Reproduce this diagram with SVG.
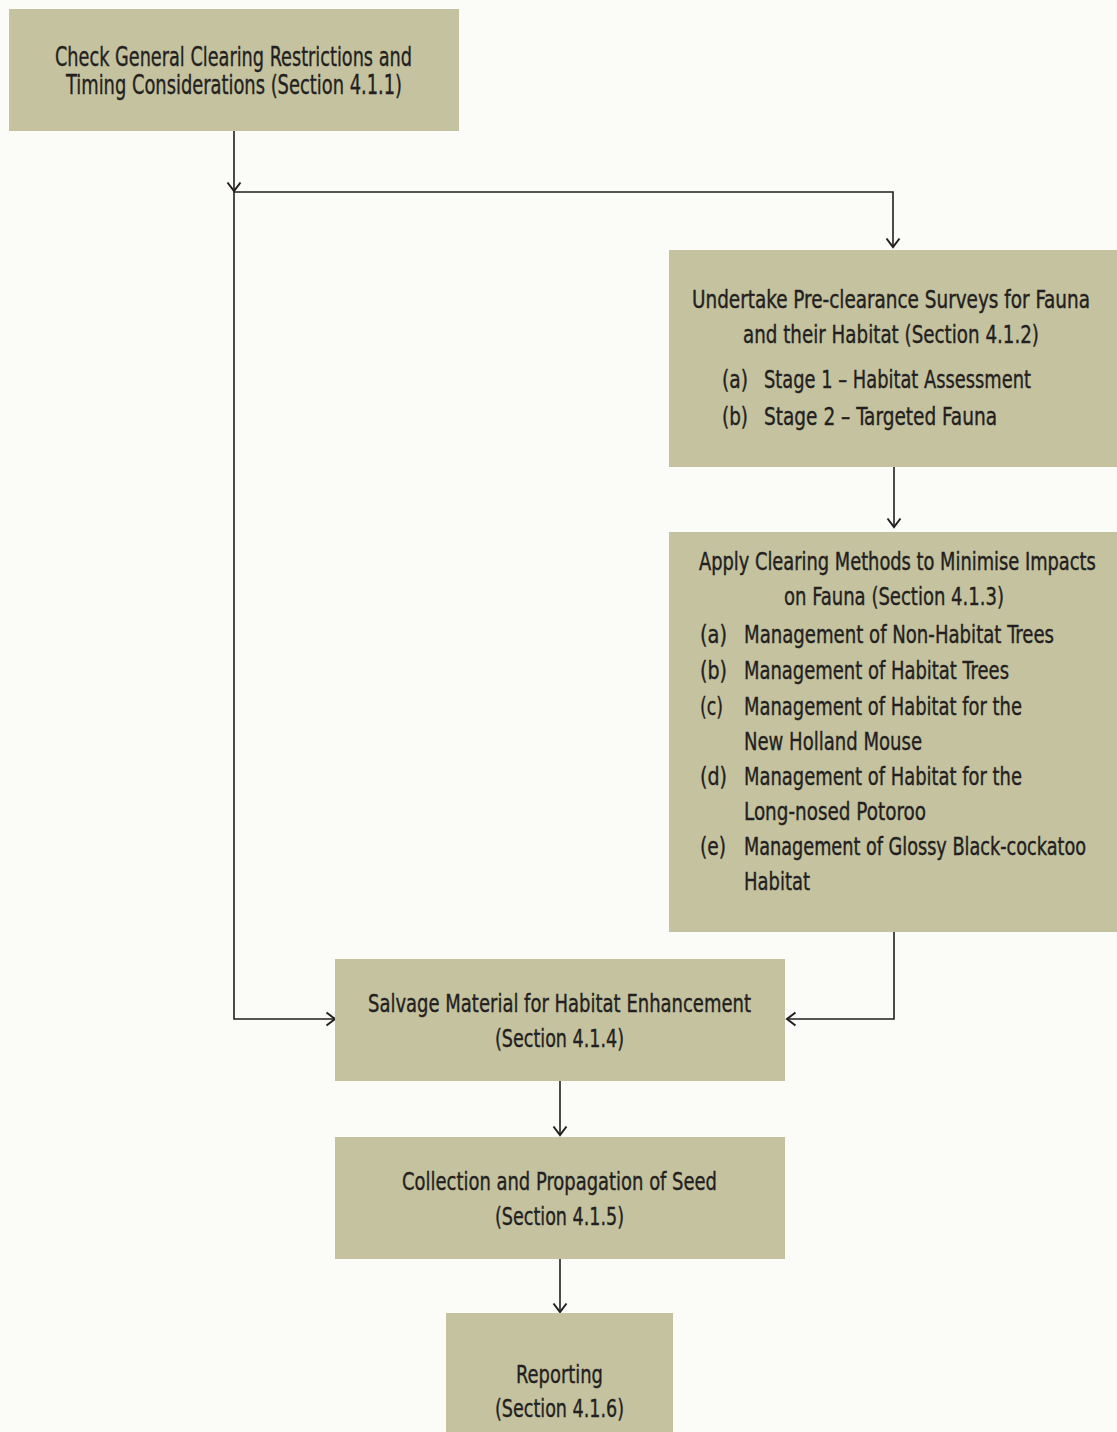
<svg xmlns="http://www.w3.org/2000/svg" width="1117" height="1432" viewBox="0 0 1117 1432">
<defs>
<style>
.box{fill:#c4c29f;}
text{font-family:"Liberation Sans Narrow","DejaVu Sans Condensed","Liberation Sans",sans-serif;fill:#231f20;stroke:#231f20;stroke-width:0.35px;}
.t{font-size:24px;}
.s{font-size:24px;stroke-width:0.4px;}
.t1{font-size:27px;}
.c{stroke:#231f20;stroke-width:1.6;fill:none;}
</style>
<marker id="arr" markerUnits="userSpaceOnUse" viewBox="-11 -8 13 16" refX="0" refY="0" markerWidth="13" markerHeight="16" orient="auto">
<path d="M-8.5,-6.5 L0,0 L-8.5,6.5" fill="none" stroke="#231f20" stroke-width="2"/>
</marker>
</defs>
<rect width="1117" height="1432" fill="#fbfbf7"/>
<g id="connectors">
<path class="c" d="M234,131 V191" marker-end="url(#arr)"/>
<path class="c" d="M234,191 V1019 H335" marker-end="url(#arr)"/>
<path class="c" d="M234,192 H893 V247" marker-end="url(#arr)"/>
<path class="c" d="M894,467 V527" marker-end="url(#arr)"/>
<path class="c" d="M894,932 V1019 H787" marker-end="url(#arr)"/>
<path class="c" d="M560,1078 V1135" marker-end="url(#arr)"/>
<path class="c" d="M560,1256 V1312" marker-end="url(#arr)"/>
</g>
<g id="node1">
<rect class="box" x="9" y="9" width="450" height="122"/>
<text class="t1" x="55" y="66" textLength="357" lengthAdjust="spacingAndGlyphs">Check General Clearing Restrictions and</text>
<text class="t1" x="66" y="94" textLength="336" lengthAdjust="spacingAndGlyphs">Timing Considerations (Section 4.1.1)</text>
</g>
<g id="node2">
<rect class="box" x="669" y="250" width="448" height="217"/>
<text class="s" transform="translate(692,308) scale(0.8,1)" x="0" y="0" textLength="497.5" lengthAdjust="spacingAndGlyphs">Undertake Pre-clearance Surveys for Fauna</text>
<text class="t" x="743" y="343" textLength="296" lengthAdjust="spacingAndGlyphs">and their Habitat (Section 4.1.2)</text>
<text class="t" x="722" y="388" textLength="26" lengthAdjust="spacingAndGlyphs">(a)</text>
<text class="t" x="764" y="388" textLength="267" lengthAdjust="spacingAndGlyphs">Stage 1 – Habitat Assessment</text>
<text class="t" x="722" y="425" textLength="26" lengthAdjust="spacingAndGlyphs">(b)</text>
<text class="t" x="764" y="425" textLength="233" lengthAdjust="spacingAndGlyphs">Stage 2 – Targeted Fauna</text>
</g>
<g id="node3">
<rect class="box" x="669" y="532" width="448" height="400"/>
<text class="s" transform="translate(699,570) scale(0.8,1)" x="0" y="0" textLength="496" lengthAdjust="spacingAndGlyphs">Apply Clearing Methods to Minimise Impacts</text>
<text class="t" x="784" y="605" textLength="220" lengthAdjust="spacingAndGlyphs">on Fauna (Section 4.1.3)</text>
<text class="t" x="700" y="643" textLength="27" lengthAdjust="spacingAndGlyphs">(a)</text>
<text class="t" x="744" y="643" textLength="310" lengthAdjust="spacingAndGlyphs">Management of Non-Habitat Trees</text>
<text class="t" x="700" y="679" textLength="27" lengthAdjust="spacingAndGlyphs">(b)</text>
<text class="t" x="744" y="679" textLength="265" lengthAdjust="spacingAndGlyphs">Management of Habitat Trees</text>
<text class="t" x="700" y="715" textLength="23" lengthAdjust="spacingAndGlyphs">(c)</text>
<text class="t" x="744" y="715" textLength="278" lengthAdjust="spacingAndGlyphs">Management of Habitat for the</text>
<text class="t" x="744" y="750" textLength="178" lengthAdjust="spacingAndGlyphs">New Holland Mouse</text>
<text class="t" x="700" y="785" textLength="27" lengthAdjust="spacingAndGlyphs">(d)</text>
<text class="t" x="744" y="785" textLength="278" lengthAdjust="spacingAndGlyphs">Management of Habitat for the</text>
<text class="t" x="744" y="820" textLength="182" lengthAdjust="spacingAndGlyphs">Long-nosed Potoroo</text>
<text class="t" x="700" y="855" textLength="26" lengthAdjust="spacingAndGlyphs">(e)</text>
<text class="s" transform="translate(744,855) scale(0.8,1)" x="0" y="0" textLength="427.5" lengthAdjust="spacingAndGlyphs">Management of Glossy Black-cockatoo</text>
<text class="t" x="744" y="890" textLength="66" lengthAdjust="spacingAndGlyphs">Habitat</text>
</g>
<g id="node4">
<rect class="box" x="335" y="959" width="450" height="122"/>
<text class="t" x="368" y="1012" textLength="383" lengthAdjust="spacingAndGlyphs">Salvage Material for Habitat Enhancement</text>
<text class="t" x="495" y="1047" textLength="129" lengthAdjust="spacingAndGlyphs">(Section 4.1.4)</text>
</g>
<g id="node5">
<rect class="box" x="335" y="1137" width="450" height="122"/>
<text class="t" x="402" y="1190" textLength="315" lengthAdjust="spacingAndGlyphs">Collection and Propagation of Seed</text>
<text class="t" x="495" y="1225" textLength="129" lengthAdjust="spacingAndGlyphs">(Section 4.1.5)</text>
</g>
<g id="node6">
<rect class="box" x="446" y="1313" width="227" height="125"/>
<text class="t" x="516" y="1383" textLength="87" lengthAdjust="spacingAndGlyphs">Reporting</text>
<text class="t" x="495" y="1417" textLength="129" lengthAdjust="spacingAndGlyphs">(Section 4.1.6)</text>
</g>
</svg>
